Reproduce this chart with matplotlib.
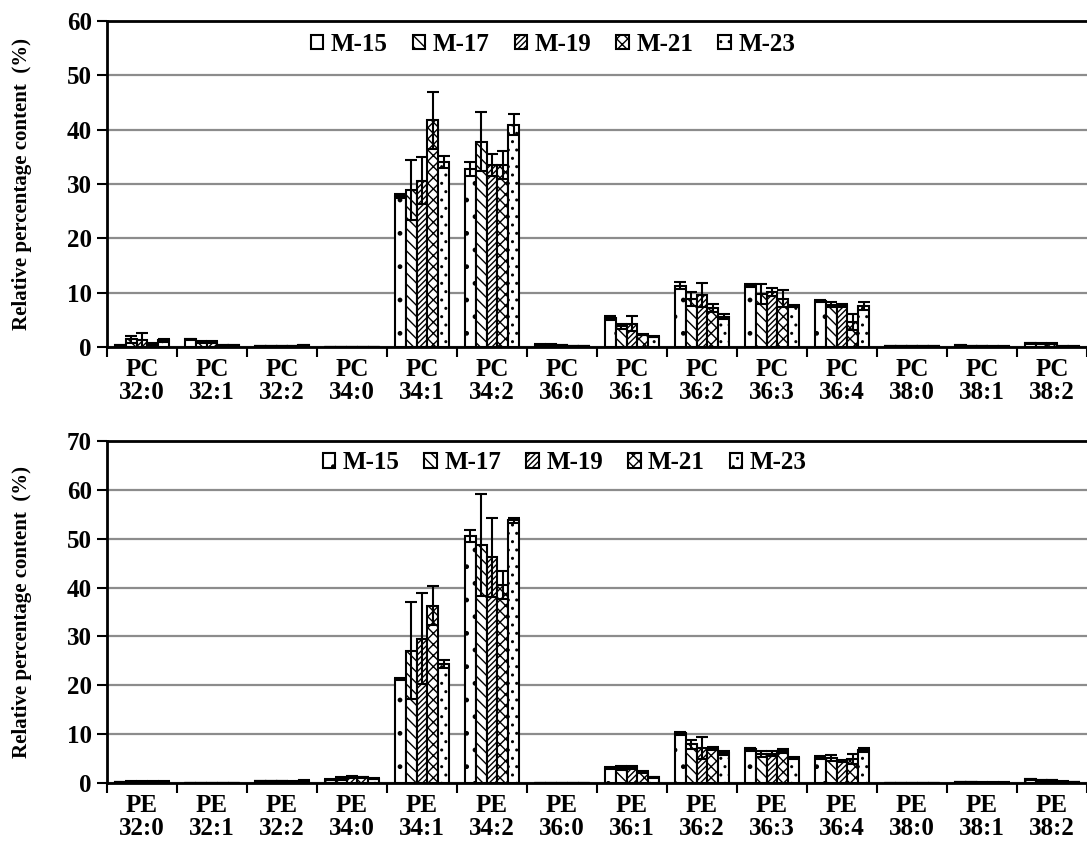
import numpy as np
import matplotlib
matplotlib.use("Agg")
import matplotlib.pyplot as plt

plt.rcParams['font.family'] = ['Liberation Serif', 'DejaVu Serif']
plt.rcParams['font.weight'] = 'bold'
plt.rcParams['hatch.linewidth'] = 1.0

series = ["M-15", "M-17", "M-19", "M-21", "M-23"]
species = ["32:0", "32:1", "32:2", "34:0", "34:1", "34:2", "36:0",
           "36:1", "36:2", "36:3", "36:4", "38:0", "38:1", "38:2"]

# PC values: rows = categories, cols = series
pc_vals = [
    [0.3, 1.4, 1.2, 0.5, 1.2],
    [1.4, 0.9, 0.9, 0.3, 0.3],
    [0.2, 0.2, 0.2, 0.2, 0.3],
    [0.05, 0.05, 0.05, 0.05, 0.05],
    [27.8, 28.9, 30.6, 41.7, 34.1],
    [32.7, 37.8, 33.5, 33.5, 40.9],
    [0.4, 0.4, 0.3, 0.2, 0.2],
    [5.3, 3.8, 4.3, 2.3, 1.9],
    [11.3, 8.8, 9.6, 7.2, 5.6],
    [11.3, 9.8, 10.1, 8.9, 7.5],
    [8.4, 7.8, 7.7, 4.6, 7.5],
    [0.1, 0.1, 0.1, 0.1, 0.1],
    [0.3, 0.2, 0.2, 0.1, 0.1],
    [0.7, 0.6, 0.6, 0.1, 0.1],
]
pc_err = [
    [0.1, 0.6, 1.3, 0.2, 0.2],
    [0.1, 0.2, 0.2, 0.1, 0.1],
    [0.05, 0.05, 0.05, 0.05, 0.05],
    [0.0, 0.0, 0.0, 0.0, 0.0],
    [0.3, 5.5, 4.3, 5.2, 1.1],
    [1.3, 5.4, 2.1, 2.6, 1.9],
    [0.1, 0.1, 0.1, 0.05, 0.05],
    [0.4, 0.4, 1.4, 0.1, 0.1],
    [0.6, 1.3, 2.2, 0.8, 0.5],
    [0.3, 1.8, 0.8, 1.6, 0.2],
    [0.2, 0.5, 0.3, 1.5, 0.7],
    [0.0, 0.0, 0.0, 0.0, 0.0],
    [0.05, 0.05, 0.05, 0.05, 0.05],
    [0.1, 0.1, 0.1, 0.05, 0.05],
]

# PE values
pe_vals = [
    [0.2, 0.3, 0.3, 0.3, 0.3],
    [0.1, 0.1, 0.1, 0.1, 0.1],
    [0.4, 0.4, 0.4, 0.3, 0.5],
    [0.7, 1.0, 1.2, 1.2, 0.9],
    [21.3, 27.1, 29.5, 36.3, 24.4],
    [50.6, 48.7, 46.2, 40.5, 53.8],
    [0.1, 0.1, 0.1, 0.1, 0.1],
    [3.1, 3.1, 3.2, 2.2, 1.2],
    [10.2, 7.9, 7.2, 7.0, 6.1],
    [6.9, 5.9, 6.0, 6.6, 5.2],
    [5.2, 5.1, 4.5, 4.9, 6.8],
    [0.05, 0.05, 0.05, 0.05, 0.05],
    [0.2, 0.2, 0.1, 0.1, 0.1],
    [0.8, 0.6, 0.6, 0.3, 0.2],
]
pe_err = [
    [0.05, 0.05, 0.05, 0.05, 0.05],
    [0.0, 0.0, 0.0, 0.0, 0.0],
    [0.05, 0.05, 0.05, 0.05, 0.1],
    [0.1, 0.3, 0.2, 0.1, 0.1],
    [0.2, 9.9, 9.3, 4.0, 0.8],
    [1.2, 10.5, 8.1, 2.9, 0.5],
    [0.0, 0.0, 0.0, 0.0, 0.0],
    [0.2, 0.4, 0.3, 0.2, 0.1],
    [0.3, 0.9, 2.3, 0.3, 0.4],
    [0.3, 0.6, 0.5, 0.4, 0.2],
    [0.3, 0.6, 0.3, 1.0, 0.4],
    [0.0, 0.0, 0.0, 0.0, 0.0],
    [0.05, 0.05, 0.05, 0.05, 0.05],
    [0.1, 0.1, 0.1, 0.05, 0.05],
]

hatches = ['.', '\\\\\\', '//////', 'xxx', '..']
W, H = 1087, 857
fig = plt.figure(figsize=(W / 100, H / 100), dpi=100)

ax1 = fig.add_axes([107 / W, 1 - 347 / H, 980 / W, 326 / H])
ax2 = fig.add_axes([107 / W, 1 - 783 / H, 980 / W, 342 / H])

bw = 0.155
x = np.arange(len(species))


def draw(ax, vals, errs, prefix, ymax, legx, legy):
    v = np.array(vals)
    e = np.array(errs)
    handles = []
    for j, s in enumerate(series):
        pos = x + (j - 2) * bw
        b = ax.bar(pos, v[:, j], width=bw, color='white', edgecolor='black',
                   linewidth=1.5, hatch=hatches[j], label=s, zorder=3)
        ax.errorbar(pos, v[:, j], yerr=e[:, j], fmt='none', ecolor='black',
                    elinewidth=1.5, capsize=4, capthick=1.5, zorder=4)
        handles.append(b)
    ax.set_xlim(-0.5, len(species) - 0.5)
    ax.set_ylim(0, ymax)
    ax.set_yticks(np.arange(0, ymax + 1, 10))
    ax.yaxis.grid(True, color='#8c8c8c', linewidth=1.6, zorder=0)
    ax.set_axisbelow(True)
    ax.set_xticks(np.arange(len(species) + 1) - 0.5)
    ax.set_xticklabels([])
    ax.set_xticks(x, minor=True)
    ax.set_xticklabels([prefix + "\n" + s for s in species], minor=True,
                       fontsize=18, fontweight='bold', linespacing=1.0)
    ax.tick_params(axis='x', which='minor', length=0, pad=8)
    ax.tick_params(axis='x', which='major', length=7, width=1.5, direction='out')
    ax.tick_params(axis='y', length=7, width=1.5, direction='out', labelsize=18, pad=4)
    for lab in ax.get_yticklabels():
        lab.set_fontweight('bold')
    ax.spines['right'].set_visible(False)
    for sp in ['left', 'bottom', 'top']:
        ax.spines[sp].set_linewidth(2)
        ax.spines[sp].set_color('black')
    ax.set_ylabel("Relative percentage content  (%)", fontsize=15,
                  fontweight='bold')
    ax.legend(handles=handles, loc='center', bbox_to_anchor=(legx, legy), ncol=5,
              frameon=False, handlelength=0.5, handleheight=0.5,
              handletextpad=0.3, columnspacing=1.0,
              prop={'weight': 'bold', 'size': 18})


draw(ax1, pc_vals, pc_err, "PC", 60, 0.455, 0.929)
draw(ax2, pe_vals, pe_err, "PE", 70, 0.467, 0.936)

ax1.yaxis.set_label_coords(-0.077, 0.5)
ax2.yaxis.set_label_coords(-0.077, 0.5)

fig.savefig("out.png", dpi=100)
